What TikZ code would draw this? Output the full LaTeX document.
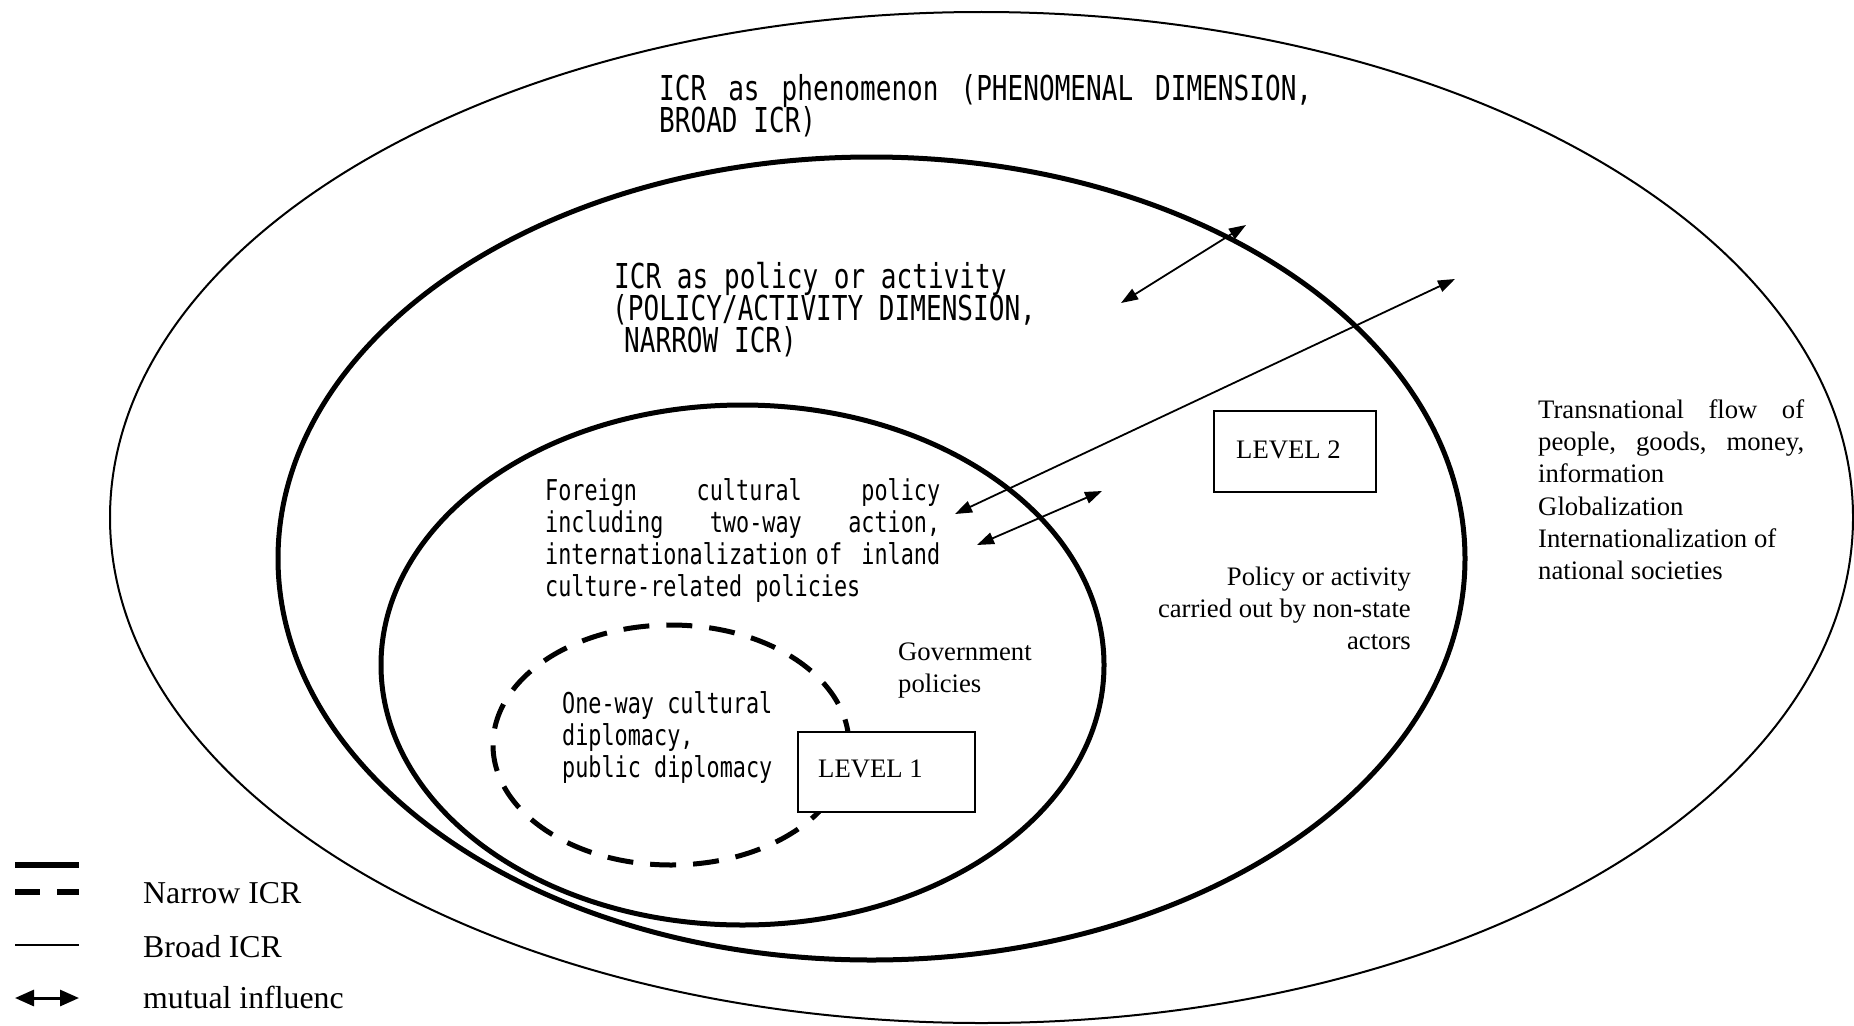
\documentclass[tikz,border=0pt]{standalone}
\usepackage{fontspec}
\setmainfont{Liberation Serif}
\newfontfamily\gothfam[FakeStretch=0.76]{DejaVu Sans Mono}
\usetikzlibrary{shapes.geometric,arrows.meta}
\newcommand\gbig{\gothfam\fontsize{34.3pt}{32pt}\selectfont}
\newcommand\gsml{\gothfam\fontsize{28.7pt}{32pt}\selectfont}
\newcommand\sertxt{\rmfamily\fontsize{26.7pt}{32pt}\selectfont}
\newcommand\legtxt{\rmfamily\fontsize{31.8pt}{36pt}\selectfont}
\begin{document}
\begin{tikzpicture}[x=1pt,y=-1pt,
  ell/.style={draw, ellipse, inner sep=0pt, outer sep=0pt},
  thinline/.style={line width=2pt},
  thickline/.style={line width=5pt},
  dashline/.style={line width=5pt, dash pattern=on 26pt off 17pt},
  lvbox/.style={draw, line width=2pt, fill=white, inner sep=0pt},
  txt/.style={inner sep=0pt, anchor=base west},
  txtr/.style={inner sep=0pt, anchor=base east},
  arr/.style={line width=1.8pt, {Triangle[length=17pt,width=12pt]}-{Triangle[length=17pt,width=12pt]}},
  legarr/.style={line width=3pt, {Triangle[length=19pt,width=16pt]}-{Triangle[length=19pt,width=16pt]}},
]
\useasboundingbox (0,0) rectangle (1854,1025);

% ellipses
\node[ell, thinline, minimum width=1743pt, minimum height=1011pt] (outer) at (981.5,517.5) {};
\node[ell, thickline, minimum width=1187pt, minimum height=803pt] (policy) at (871.5,558.5) {};
\node[ell, thickline, minimum width=723pt, minimum height=520pt] (govt) at (742.5,665) {};
\node[ell, dashline, minimum width=356pt, minimum height=240pt] (oneway) at (671,745) {};

% level boxes
\node[lvbox, minimum width=177pt, minimum height=80pt] (lv1) at (886.5,772) {};
\node[lvbox, minimum width=162pt, minimum height=81pt] (lv2) at (1295,451.5) {};
\node[txt] (lv1t) at (818,777) {\sertxt LEVEL 1};
\node[txt] (lv2t) at (1236,458) {\sertxt LEVEL 2};

% gothic texts
\node[txt] (ph1) at (659,100) {\gbig\makebox[653pt][l]{ICR\hfill as\hfill phenomenon\hfill (PHENOMENAL\hfill DIMENSION,}};
\node[txt] (ph2) at (659,132) {\gbig BROAD ICR)};

\node[txt] (po1) at (614,288) {\gbig ICR as policy or activity};
\node[txt] (po2) at (612,320) {\gbig (POLICY/ACTIVITY DIMENSION,};
\node[txt] (po3) at (624,352) {\gbig NARROW ICR)};

\node[txt] (fc1) at (545,500) {\gsml\makebox[395pt][l]{Foreign\hfill cultural\hfill policy}};
\node[txt] (fc2) at (545,532) {\gsml\makebox[395pt][l]{including\hfill two-way\hfill action,}};
\node[txt] (fc3) at (545,564) {\gsml\makebox[395pt][l]{internationalization\hspace{-5pt} of\hfill inland}};
\node[txt] (fc4) at (545,596) {\gsml culture-related policies};

\node[txt] (ow1) at (562,713) {\gsml One-way cultural};
\node[txt] (ow2) at (562,745) {\gsml diplomacy,};
\node[txt] (ow3) at (562,777) {\gsml public diplomacy};

% serif texts
\node[txt] (gv1) at (898,660) {\sertxt Government};
\node[txt] (gv2) at (898,692) {\sertxt policies};

\node[txtr] (ns1) at (1411,585) {\sertxt Policy or activity};
\node[txtr] (ns2) at (1411,617) {\sertxt carried out by non-state};
\node[txtr] (ns3) at (1411,649) {\sertxt actors};

\node[txt] (tf1) at (1538,418) {\sertxt\makebox[266pt][l]{Transnational\hfill flow\hfill of}};
\node[txt] (tf2) at (1538,450) {\sertxt\makebox[266pt][l]{people,\hfill goods,\hfill money,}};
\node[txt] (tf3) at (1538,482) {\sertxt information};
\node[txt] (tf4) at (1538,515) {\sertxt Globalization};
\node[txt] (tf5) at (1538,547) {\sertxt Internationalization of};
\node[txt] (tf6) at (1538,579) {\sertxt national societies};

% mutual influence arrows
\coordinate (a1s) at (1121,303); \coordinate (a1e) at (1246,225);
\coordinate (a2s) at (955,514);  \coordinate (a2e) at (1455,279);
\coordinate (a3s) at (977,545);  \coordinate (a3e) at (1102,491);
\draw[arr] (a1s) -- (a1e);
\draw[arr] (a2s) -- (a2e);
\draw[arr] (a3s) -- (a3e);

% legend
\coordinate (l1a) at (15,865); \coordinate (l1b) at (79,865);
\coordinate (l2a) at (15,892); \coordinate (l2b) at (79,892);
\coordinate (l3a) at (15,945); \coordinate (l3b) at (79,945);
\coordinate (l4a) at (15,998); \coordinate (l4b) at (79,998);
\draw[line width=6pt] (l1a) -- (l1b);
\draw[line width=6pt, dash pattern=on 25pt off 17pt on 22pt off 10pt] (l2a) -- (l2b);
\draw[line width=1.6pt] (l3a) -- (l3b);
\draw[legarr] (l4a) -- (l4b);
\node[txt] (lg1) at (143,903) {\legtxt Narrow ICR};
\node[txt] (lg2) at (143,957) {\legtxt Broad ICR};
\node[txt] (lg3) at (143,1008) {\legtxt mutual influenc};
\end{tikzpicture}
\end{document}
